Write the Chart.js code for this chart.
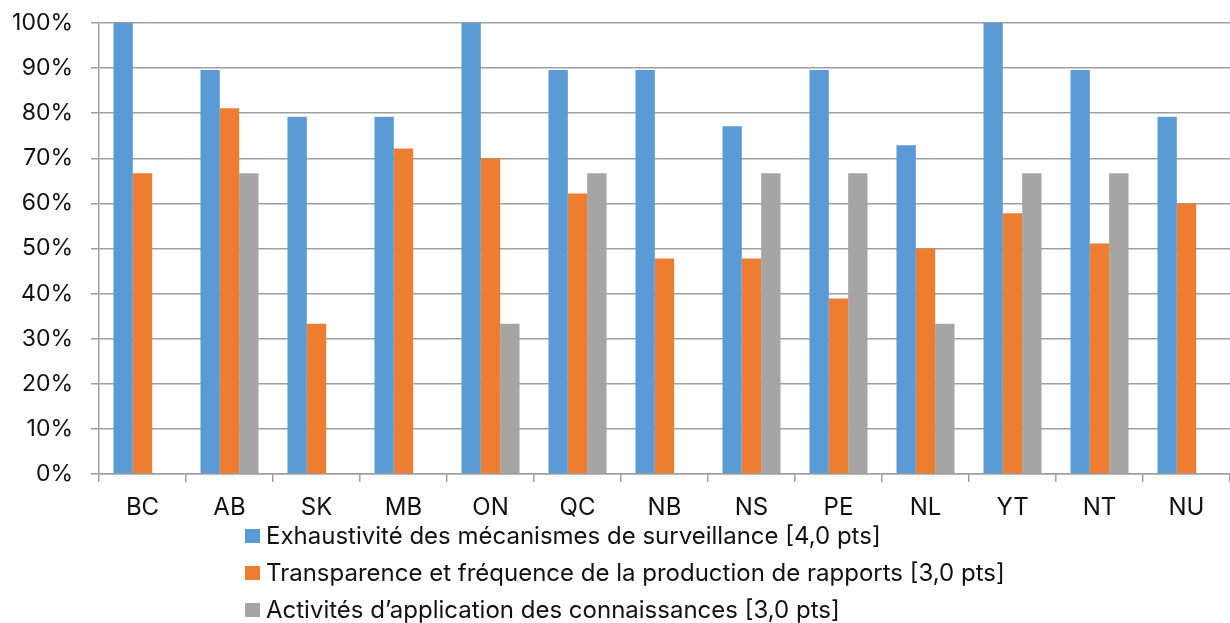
<!DOCTYPE html>
<html>
<head>
<meta charset="utf-8">
<script src="https://cdn.jsdelivr.net/npm/chart.js@4/dist/chart.umd.min.js"></script>
<style>
    body { margin: 0; background: #fff; }
    #wrap { position: relative; width: 1230px; height: 623px; }
    #legend { position: absolute; left: 245px; top: 517px; font-family: Inter, "Open Sans", sans-serif; font-size: 24px; color: #111; }
    .row { display: flex; align-items: center; height: 37px; white-space: nowrap; }
    .box { width: 15px; height: 14px; margin-right: 6px; }
</style>
</head>
<body>
<div id="wrap">
    <canvas id="chart-bar" width="1230" height="623"></canvas>
    <div id="legend"></div>
</div>
<script>
var provinces = ["BC", "AB", "SK", "MB", "ON", "QC", "NB", "NS", "PE", "NL", "YT", "NT", "NU"];
var seriesNames = [
    "Exhaustivité des mécanismes de surveillance [4,0 pts]",
    "Transparence et fréquence de la production de rapports [3,0 pts]",
    "Activités d’application des connaissances [3,0 pts]"
];
var surveillance = [100, 89.6, 79.2, 79.2, 100, 89.6, 89.6, 77.1, 89.6, 72.9, 100, 89.6, 79.2];
var transparence = [66.7, 81.1, 33.3, 72.2, 70.0, 62.2, 47.8, 47.8, 38.9, 50.0, 57.8, 51.1, 60.0];
var application = [0, 66.7, 0, 0, 33.3, 66.7, 0, 66.7, 66.7, 33.3, 66.7, 66.7, 0];
var colors = ['#5b9bd5', '#ed7d31', '#a5a5a5'];

var gridColor = '#9f9f9f';
var fontFamily = 'Inter, "Open Sans", sans-serif';

var ctx = document.getElementById('chart-bar');
var barChart = new Chart(ctx, {
    type: 'bar',
    data: {
        labels: provinces,
        datasets: [surveillance, transparence, application].map(function(vals, i) {
            return {
                label: seriesNames[i],
                data: vals,
                backgroundColor: colors[i],
                borderWidth: 0,
                categoryPercentage: 0.667,
                barPercentage: 1.0
            };
        })
    },
    options: {
        responsive: false,
        animation: false,
        layout: { padding: { top: 23, right: 0, bottom: 0, left: 0 } },
        plugins: {
            legend: { display: false },
            tooltip: { enabled: false }
        },
        scales: {
            x: {
                grid: { offset: true, drawOnChartArea: false, color: gridColor, tickLength: 8, lineWidth: 1.5 },
                border: { color: gridColor, width: 1.5 },
                ticks: { color: '#111', font: { family: fontFamily, size: 24 }, padding: 11 },
                afterFit: function(s) { s.height = 149; s.paddingLeft = 0; s.paddingRight = 0; }
            },
            y: {
                min: 0,
                max: 100,
                ticks: {
                    stepSize: 10,
                    color: '#111',
                    font: { family: fontFamily, size: 23 },
                    padding: 18,
                    callback: function(v) { return v + '%'; }
                },
                grid: { color: gridColor, tickLength: 8, lineWidth: 1.5 },
                border: { color: gridColor, width: 1.5 },
                afterFit: function(s) { s.width = 99; s.paddingTop = 0; s.paddingBottom = 0; }
            }
        }
    }
});

// legend, one item per line
var legend = document.getElementById('legend');
seriesNames.forEach(function(name, i) {
    legend.innerHTML += '<div class="row"><span class="box" style="background:' + colors[i] + '"></span>' + name + '</div>';
});
</script>
</body>
</html>
